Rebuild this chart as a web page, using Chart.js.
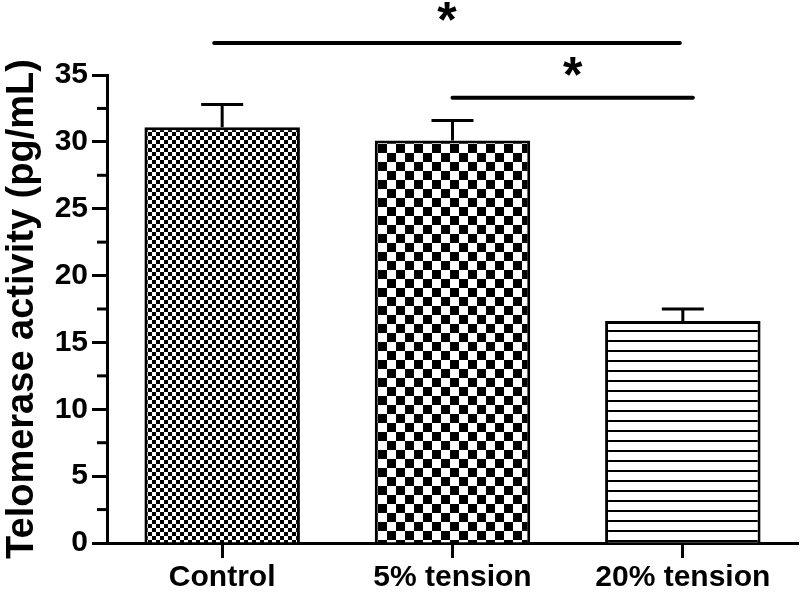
<!DOCTYPE html>
<html>
<head>
<meta charset="utf-8">
<script src="https://cdn.jsdelivr.net/npm/chart.js@4"></script>
<style>
  html, body { margin: 0; padding: 0; background: #fff; }
  #wrap { width: 800px; height: 593px; }
</style>
</head>
<body>
<div id="wrap"><canvas id="c" width="800" height="593"></canvas></div>
<script>
const categories = ['Control', '5% tension', '20% tension'];
const means = [31.1, 30.1, 16.6];
const errs = [1.7, 1.5, 0.9];
const yTicks = [0, 5, 10, 15, 20, 25, 30, 35];
const minorTicks = [2.5, 7.5, 12.5, 17.5, 22.5, 27.5, 32.5];
// significance brackets: category indices and height in data units
const sigFrom = [0, 1];
const sigTo = [2, 2];
const sigLevel = [37.4, 33.3];

const FONT = 'Liberation Sans, Arial, Helvetica, sans-serif';

function checker(size) {
  const c = document.createElement('canvas');
  c.width = c.height = size * 2;
  const g = c.getContext('2d');
  g.fillStyle = '#fff';
  g.fillRect(0, 0, size * 2, size * 2);
  g.fillStyle = '#000';
  g.fillRect(0, 0, size, size);
  g.fillRect(size, size, size, size);
  return g.createPattern(c, 'repeat');
}

function hlines(gap, thick) {
  const c = document.createElement('canvas');
  c.width = 8; c.height = gap;
  const g = c.getContext('2d');
  g.fillStyle = '#fff';
  g.fillRect(0, 0, 8, gap);
  g.fillStyle = '#000';
  g.fillRect(0, 0, 8, thick);
  return g.createPattern(c, 'repeat');
}

const fills = [checker(4), checker(9), hlines(10, 2)];

const extras = {
  id: 'extras',
  afterDatasetsDraw(chart) {
    const ctx = chart.ctx;
    const y = chart.scales.y;
    const meta = chart.getDatasetMeta(0);
    ctx.save();
    ctx.strokeStyle = '#000';
    ctx.lineWidth = 3;
    // error bars (upper only)
    meta.data.forEach((bar, i) => {
      const top = y.getPixelForValue(means[i] + errs[i]);
      ctx.beginPath();
      ctx.moveTo(bar.x, bar.y);
      ctx.lineTo(bar.x, top);
      ctx.moveTo(bar.x - 21, top);
      ctx.lineTo(bar.x + 21, top);
      ctx.stroke();
    });
    // minor ticks on y axis
    const left = chart.chartArea.left;
    minorTicks.forEach(v => {
      const py = y.getPixelForValue(v);
      ctx.beginPath();
      ctx.moveTo(left - 10, py);
      ctx.lineTo(left, py);
      ctx.stroke();
    });
    // significance lines
    ctx.lineWidth = 4;
    ctx.lineCap = 'round';
    ctx.fillStyle = '#000';
    ctx.font = 'bold 50px ' + FONT;
    ctx.textAlign = 'center';
    ctx.textBaseline = 'middle';
    sigLevel.forEach((lv, k) => {
      const x0 = meta.data[sigFrom[k]].x - (k === 0 ? 8 : 0);
      const x1 = meta.data[sigTo[k]].x + (k === 0 ? -3 : 10);
      const py = y.getPixelForValue(lv);
      ctx.beginPath();
      ctx.moveTo(x0, py);
      ctx.lineTo(x1, py);
      ctx.stroke();
      ctx.fillText('*', (x0 + x1) / 2, py - 20);
    });
    ctx.restore();
  }
};

new Chart(document.getElementById('c'), {
  type: 'bar',
  data: {
    labels: categories,
    datasets: [{
      data: means,
      backgroundColor: fills,
      borderColor: '#000',
      borderWidth: 3,
      categoryPercentage: 1,
      barPercentage: 0.675
    }]
  },
  options: {
    responsive: false,
    animation: false,
    devicePixelRatio: 1,
    layout: { padding: { top: 75, right: 2, left: 0, bottom: 0 } },
    plugins: { legend: { display: false }, tooltip: { enabled: false } },
    scales: {
      x: {
        grid: { display: true, drawOnChartArea: false, offset: false, tickLength: 15, tickWidth: 3, tickColor: '#000' },
        border: { display: true, color: '#000', width: 3 },
        ticks: { color: '#000', font: { family: FONT, size: 30, weight: 'bold' }, padding: 2, maxRotation: 0 },
        afterFit: s => { s.height = 50; }
      },
      y: {
        min: 0,
        max: 35,
        afterBuildTicks: s => { s.ticks = yTicks.map(v => ({ value: v })); },
        grid: { display: true, drawOnChartArea: false, tickLength: 15, tickWidth: 3, tickColor: '#000' },
        border: { display: true, color: '#000', width: 3 },
        ticks: { color: '#000', font: { family: FONT, size: 30, weight: 'bold' }, padding: 4 },
        title: {
          display: true,
          text: 'Telomerase activity (pg/mL)',
          color: '#000',
          font: { family: FONT, size: 38, weight: 'bold' },
          padding: { top: 0, bottom: 0 }
        },
        afterFit: s => { s.width = 107; }
      }
    }
  },
  plugins: [extras]
});
</script>
</body>
</html>
